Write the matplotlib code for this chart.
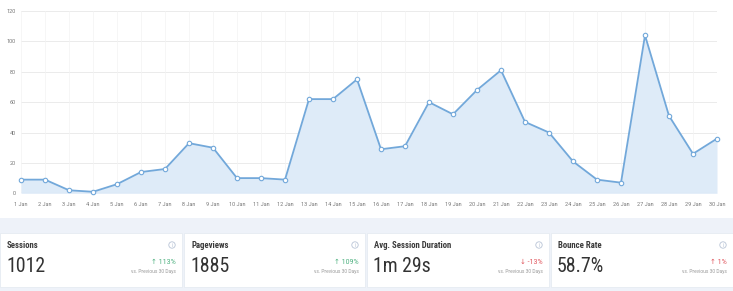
import matplotlib
matplotlib.use("Agg")
import matplotlib.pyplot as plt
from matplotlib import font_manager
from matplotlib.patches import Rectangle, Circle

# sessions per day
days = list(range(1, 31))
day_labels = ["%d Jan" % d for d in days]
sessions = [9, 9, 2, 1, 6, 14, 16, 33, 30, 10, 10, 9, 62, 62, 75,
            29, 31, 60, 52, 68, 81, 47, 40, 21, 9, 7, 104, 51, 26, 36]
y_ticks = [0, 20, 40, 60, 80, 100, 120]

card_titles = ["Sessions", "Pageviews", "Avg. Session Duration", "Bounce Rate"]
card_values = ["1012", "1885", "1m 29s", "58.7%"]
card_changes = ["113%", "109%", "-13%", "1%"]
card_up = [True, True, False, True]
card_good = [True, True, False, False]


def find_condensed(bold):
    # upright condensed face, or None
    for want in ["Roboto Condensed", "Liberation Sans Narrow", "DejaVu Sans Condensed"]:
        for f in font_manager.fontManager.ttflist:
            n = (f.name + " " + f.fname).replace(" ", "")
            if want.replace(" ", "") not in n or f.style != "normal":
                continue
            w = f.weight if isinstance(f.weight, int) else (700 if f.weight == "bold" else 400)
            if (bold and w == 700) or (not bold and w == 400):
                return f.fname
    return None


fam = ["Roboto", "DejaVu Sans"]
cond = find_condensed(False)
cond_b = find_condensed(True)
if cond:
    big_font = dict(fontproperties=font_manager.FontProperties(fname=cond, size=14.3))
else:
    big_font = dict(family=fam, fontsize=13.5)
if cond_b:
    title_font = dict(fontproperties=font_manager.FontProperties(fname=cond_b, size=6.3))
else:
    title_font = dict(family=fam, fontsize=6, weight="bold")

W, H = 733, 291
fig = plt.figure(figsize=(W / 100, H / 100), dpi=100)
fig.patch.set_facecolor("white")

def fx(x):
    return x / W

def fy(y):
    return 1 - y / H

# background strip and cards
bg = fig.add_axes([0, 0, 1, 1], zorder=0)
bg.set_xlim(0, W)
bg.set_ylim(H, 0)
bg.axis("off")
bg.add_patch(Rectangle((0, 218), W, H - 218, color="#eef2f9", lw=0))
card_x = [0, 184, 367, 551]
card_w = [182, 181, 182, 182]
for i in range(4):
    x0 = card_x[i]
    bg.add_patch(Rectangle((x0, 233), card_w[i], 54, facecolor="white",
                           edgecolor="#e6ebf2", lw=0.6))
    right = x0 + card_w[i] - 6
    bg.text(x0 + 7, 246, card_titles[i], color="#3a3a3a",
            va="center", ha="left", **title_font)
    bg.text(x0 + 6, 266.5, card_values[i], color="#333333",
            va="center", ha="left", **big_font)
    # info icon
    bg.add_patch(Circle((right - 4, 245), 3.2, facecolor="none",
                        edgecolor="#b8c4d6", lw=0.6))
    bg.text(right - 4, 245.3, "i", fontsize=4, color="#b8c4d6",
            ha="center", va="center", family="DejaVu Sans")
    col = "#4cb07f" if card_good[i] else "#e0535a"
    arrow = "\u2191" if card_up[i] else "\u2193"
    bg.text(right, 262, arrow + " " + card_changes[i], fontsize=5, color=col,
            family=fam, ha="right", va="center")
    bg.text(right, 271.5, "vs. Previous 30 Days", fontsize=3.5, color="#999999",
            family=fam, ha="right", va="center")

# main chart
ax = fig.add_axes([fx(21), fy(193.3), fx(717) - fx(21), fy(11) - fy(193.3)], zorder=2)
ax.set_facecolor("none")
line_col = "#72a8da"
ax.fill_between(days, sessions, 0, color="#deebf8", lw=0)
ax.plot(days, sessions, color=line_col, lw=1.3, marker="o", ms=3.2,
        mfc="white", mec=line_col, mew=0.8, clip_on=False, zorder=3)
ax.set_xlim(1, 30)
ax.set_ylim(0, 120)
ax.set_yticks(y_ticks)
ax.set_xticks(days)
ax.set_xticklabels(day_labels)
for s in ax.spines.values():
    s.set_visible(False)
ax.axhline(0, color="#d5dce6", lw=0.8, zorder=1)
for v in y_ticks[1:]:
    ax.axhline(v, color="#e8e8e8", lw=0.6, zorder=0)
for d in days:
    ax.axvline(d, color="#f3f3f3", lw=0.5, zorder=0)
ax.tick_params(axis="both", length=0, labelsize=4, labelcolor="#777777")
ax.tick_params(axis="x", pad=6)
ax.tick_params(axis="y", pad=4)
for t in ax.get_xticklabels() + ax.get_yticklabels():
    t.set_family(fam)

fig.savefig("out.png", dpi=100, facecolor="white")
